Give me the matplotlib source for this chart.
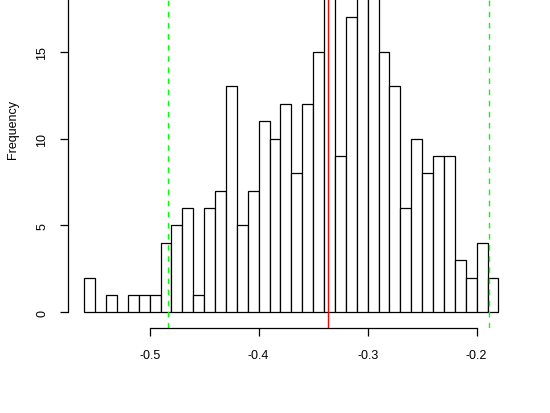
import matplotlib.pyplot as plt
import numpy as np

plt.rcParams['font.family'] = ['Liberation Sans', 'DejaVu Sans']

# histogram of the values, bins of width 0.01 from -0.56 to -0.18
bin_edges = np.round(np.arange(-0.56, -0.1799, 0.01), 2)
counts = [2, 0, 1, 0, 1, 1, 1, 4, 5, 6,
          1, 6, 7, 13, 5, 7, 11, 10, 12, 8,
          12, 15, 19, 9, 17, 23, 21, 15, 13, 6,
          10, 8, 9, 9, 3, 2, 4, 2]
mean_line = -0.3365
limit_lines = [-0.4832, -0.189]
x_ticks = [-0.5, -0.4, -0.3, -0.2]
y_ticks = [0, 5, 10, 15]
y_axis_top = 20  # axis line runs on past the cropped top

W, H = 550, 414
fig = plt.figure(figsize=(5.5, 4.14), dpi=100)
# axes reaches past the top of the figure (top of the plot is cropped)
left, right, bottom, top = 67.7, 515.0, 329.3, -102.4
ax = fig.add_axes([left / W, (H - bottom) / H, (right - left) / W, (bottom - top) / H])

ax.bar(bin_edges[:-1], counts, width=0.01, align='edge',
       facecolor='white', edgecolor='black', linewidth=0.9)

ymax = max(counts)
ax.set_xlim(bin_edges[0] - 0.04 * (bin_edges[-1] - bin_edges[0]),
            bin_edges[-1] + 0.04 * (bin_edges[-1] - bin_edges[0]))
ax.set_ylim(-0.04 * ymax, 1.04 * ymax)

ax.axvline(mean_line, color='red', lw=1)
for v in limit_lines:
    ax.axvline(v, color='#00ff00', lw=1, ls=(0, (4, 4)))

ax.spines['top'].set_visible(False)
ax.spines['right'].set_visible(False)
ax.spines['bottom'].set_bounds(x_ticks[0], x_ticks[-1])
ax.spines['left'].set_bounds(y_ticks[0], y_axis_top)
for s in ('bottom', 'left'):
    ax.spines[s].set_linewidth(0.9)

ax.set_xticks(x_ticks)
ax.set_xticklabels([f'{t:g}' for t in x_ticks])
ax.set_yticks(y_ticks)
ax.set_yticklabels([str(t) for t in y_ticks], rotation=90, va='center')
ax.tick_params(direction='out', length=5.5, width=0.9, labelsize=9)
ax.tick_params(axis='x', pad=9.5)
ax.tick_params(axis='y', pad=8.5)

fig.text(13 / W, (H - 130) / H, 'Frequency', rotation=90, fontsize=9,
         ha='center', va='center')

fig.savefig('out.png', dpi=100)
